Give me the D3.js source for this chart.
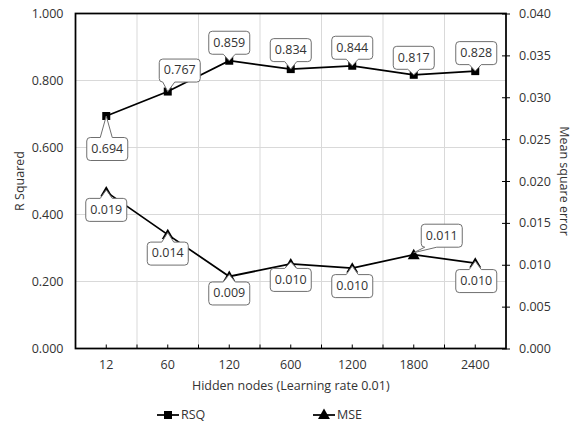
<!DOCTYPE html>
<html>
<head>
<meta charset="utf-8">
<script src="https://cdn.jsdelivr.net/npm/d3@7"></script>
<style>
  html, body { margin: 0; padding: 0; background: #fff; }
  svg { display: block; font-family: "Open Sans", "Noto Sans", sans-serif; }
</style>
</head>
<body>
<svg id="chart" width="576" height="431"></svg>
<script>
// Hidden-node experiment: R squared (left axis) and mean square error (right axis)
const categories = ["12", "60", "120", "600", "1200", "1800", "2400"];
const rsqValues = [0.694, 0.767, 0.859, 0.834, 0.844, 0.817, 0.828];
const mseValues = [0.0187, 0.0136, 0.0086, 0.0101, 0.0096, 0.0112, 0.0102];
const leftTicks = [0, 0.2, 0.4, 0.6, 0.8, 1.0];
const rightTicks = [0, 0.005, 0.010, 0.015, 0.020, 0.025, 0.030, 0.035, 0.040];

// Callout placement: box centre offset from its point
const rsqLabelOffsets = [[1, 33], [12, -21], [0, -18], [0, -19], [0, -18], [0, -17], [1, -18]];
const mseLabelOffsets = [[0, 20], [0, 21], [0, 19], [0, 18], [0, 20], [28, -17], [1, 20]];

const svg = d3.select("#chart");
const plot = { left: 75.5, right: 506, top: 13.5, bottom: 348.5 };
const textColor = "#333333";
const fontSize = "12.5px";

const x = d3.scaleBand().domain(categories).range([plot.left, plot.right]);
const yL = d3.scaleLinear().domain([0, 1]).range([plot.bottom, plot.top]);
const yR = d3.scaleLinear().domain([0, 0.04]).range([plot.bottom, plot.top]);
const cx = c => x(c) + x.bandwidth() / 2;

// Gridlines
const grid = svg.append("g");
grid.selectAll("line.h").data(leftTicks).join("line")
  .attr("x1", plot.left).attr("x2", plot.right)
  .attr("y1", d => yL(d)).attr("y2", d => yL(d))
  .attr("stroke", "#d9d9d9").attr("stroke-width", 1);
grid.selectAll("line.v").data(categories.slice(1)).join("line")
  .attr("x1", d => x(d)).attr("x2", d => x(d))
  .attr("y1", plot.top).attr("y2", plot.bottom)
  .attr("stroke", "#d9d9d9").attr("stroke-width", 1);

const styleText = g => g.selectAll("text").attr("fill", textColor)
  .style("font-size", fontSize).style("font-family", "'Open Sans', sans-serif");

// Left axis labels
const leftAxis = d3.axisLeft(yL).tickValues(leftTicks).tickFormat(d3.format(".3f")).tickSize(0).tickPadding(12);
svg.append("g").attr("transform", `translate(${plot.left},0)`).call(leftAxis)
  .call(g => g.select(".domain").remove())
  .call(styleText);

// Right axis with cross ticks
const rightAxis = d3.axisRight(yR).tickValues(rightTicks).tickFormat(d3.format(".3f")).tickSizeInner(4).tickSizeOuter(0).tickPadding(9);
svg.append("g").attr("transform", `translate(${plot.right},0)`).call(rightAxis)
  .call(g => g.select(".domain").remove())
  .call(g => g.selectAll(".tick line").attr("x1", -4).attr("x2", 4).attr("stroke", "#000"))
  .call(styleText);

// Bottom axis: category labels plus inside ticks at centres and boundaries
const bottomAxis = d3.axisBottom(x).tickSize(0).tickPadding(12);
svg.append("g").attr("transform", `translate(0,${plot.bottom})`).call(bottomAxis)
  .call(g => g.select(".domain").remove())
  .call(styleText);
const tickXs = categories.map(cx).concat(categories.slice(1).map(c => x(c)));
svg.append("g").selectAll("line").data(tickXs).join("line")
  .attr("x1", d => d).attr("x2", d => d)
  .attr("y1", plot.bottom).attr("y2", plot.bottom - 4)
  .attr("stroke", "#000").attr("stroke-width", 1);

// Plot frame
svg.append("rect")
  .attr("x", plot.left).attr("y", plot.top)
  .attr("width", plot.right - plot.left).attr("height", plot.bottom - plot.top)
  .attr("fill", "none").attr("stroke", "#000").attr("stroke-width", 1.75);

// Axis titles
svg.append("text")
  .attr("transform", `translate(21,${(plot.top + plot.bottom) / 2}) rotate(-90)`)
  .attr("text-anchor", "middle").attr("dominant-baseline", "middle")
  .attr("fill", textColor).style("font-size", fontSize).text("R Squared");
svg.append("text")
  .attr("transform", `translate(563,${(plot.top + plot.bottom) / 2}) rotate(90)`)
  .attr("text-anchor", "middle").attr("dominant-baseline", "middle")
  .attr("fill", textColor).style("font-size", fontSize).text("Mean square error");
svg.append("text")
  .attr("x", (plot.left + plot.right) / 2).attr("y", 387)
  .attr("text-anchor", "middle").attr("dominant-baseline", "middle")
  .attr("fill", textColor).style("font-size", fontSize).text("Hidden nodes (Learning rate 0.01)");

// Series lines
const rsqLine = d3.line().x((d, i) => cx(categories[i])).y(d => yL(d));
const mseLine = d3.line().x((d, i) => cx(categories[i])).y(d => yR(d));
svg.append("path").datum(rsqValues).attr("d", rsqLine)
  .attr("fill", "none").attr("stroke", "#000").attr("stroke-width", 1.75);
svg.append("path").datum(mseValues).attr("d", mseLine)
  .attr("fill", "none").attr("stroke", "#000").attr("stroke-width", 1.75);

// Markers
const square = d3.symbol().type(d3.symbolSquare).size(64);
const triangle = d3.symbol().type(d3.symbolTriangle).size(62);
svg.append("g").selectAll("path").data(rsqValues).join("path")
  .attr("d", square)
  .attr("transform", (d, i) => `translate(${cx(categories[i])},${yL(d)})`)
  .attr("fill", "#000");
svg.append("g").selectAll("path").data(mseValues).join("path")
  .attr("d", triangle)
  .attr("transform", (d, i) => `translate(${cx(categories[i])},${yR(d) + 1})`)
  .attr("fill", "#000");

// Rounded callout box with a wedge pointing at (px, py)
function calloutPath(x0, y0, w, h, r, px, py) {
  const x1 = x0 + w, y1 = y0 + h, half = 6;
  const clampX = v => Math.max(x0 + r + half, Math.min(x1 - r - half, v));
  const clampY = v => Math.max(y0 + r + half, Math.min(y1 - r - half, v));
  let side;
  if (py < y0) side = "top";
  else if (py > y1) side = "bottom";
  else side = px < x0 ? "left" : "right";
  const p = d3.path();
  p.moveTo(x0 + r, y0);
  if (side === "top") {
    const b = clampX(px);
    p.lineTo(b - half, y0); p.lineTo(px, py); p.lineTo(b + half, y0);
  }
  p.lineTo(x1 - r, y0);
  p.arcTo(x1, y0, x1, y0 + r, r);
  if (side === "right") {
    const b = clampY(py);
    p.lineTo(x1, b - half); p.lineTo(px, py); p.lineTo(x1, b + half);
  }
  p.lineTo(x1, y1 - r);
  p.arcTo(x1, y1, x1 - r, y1, r);
  if (side === "bottom") {
    const b = clampX(px);
    p.lineTo(b + half, y1); p.lineTo(px, py); p.lineTo(b - half, y1);
  }
  p.lineTo(x0 + r, y1);
  p.arcTo(x0, y1, x0, y1 - r, r);
  if (side === "left") {
    const b = clampY(py);
    p.lineTo(x0, b + half); p.lineTo(px, py); p.lineTo(x0, b - half);
  }
  p.lineTo(x0, y0 + r);
  p.arcTo(x0, y0, x0 + r, y0, r);
  p.closePath();
  return p.toString();
}

function drawCallouts(values, yScale, offsets, markerShift) {
  const fmt = d3.format(".3f");
  const g = svg.append("g");
  values.forEach((v, i) => {
    const px = cx(categories[i]);
    const py = yScale(v) + markerShift;
    const [dx, dy] = offsets[i];
    const bw = 41, bh = 23;
    const bx = px + dx - bw / 2, by = py + dy - bh / 2;
    g.append("path")
      .attr("d", calloutPath(bx, by, bw, bh, 3.5, px, py))
      .attr("fill", "#fff").attr("stroke", "#6f6f6f").attr("stroke-width", 1);
    g.append("text")
      .attr("x", bx + bw / 2).attr("y", by + bh / 2 + 0.5)
      .attr("text-anchor", "middle").attr("dominant-baseline", "middle")
      .attr("fill", textColor).style("font-size", fontSize)
      .text(fmt(v));
  });
}
drawCallouts(rsqValues, yL, rsqLabelOffsets, 0);
drawCallouts(mseValues, yR, mseLabelOffsets, -2);

// Legend
const legend = svg.append("g");
const legendItems = [
  { name: "RSQ", x: 157, sym: square },
  { name: "MSE", x: 313, sym: triangle }
];
legendItems.forEach(item => {
  legend.append("line")
    .attr("x1", item.x).attr("x2", item.x + 22)
    .attr("y1", 415).attr("y2", 415)
    .attr("stroke", "#000").attr("stroke-width", 1.75);
  legend.append("path").attr("d", item.sym)
    .attr("transform", `translate(${item.x + 11},${item.name === "MSE" ? 415.5 : 415})`)
    .attr("fill", "#000");
  legend.append("text")
    .attr("x", item.x + 24).attr("y", 415.5)
    .attr("dominant-baseline", "middle")
    .attr("fill", textColor).style("font-size", fontSize)
    .text(item.name);
});
</script>
</body>
</html>
